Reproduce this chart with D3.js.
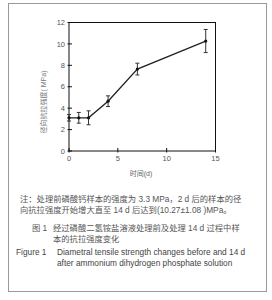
<!DOCTYPE html>
<html>
<head>
<meta charset="utf-8">
<script src="https://cdn.jsdelivr.net/npm/d3@7"></script>
<style>
body{margin:0;background:#fff;}
text{font-family:"Liberation Sans",Arial,"Noto Sans CJK SC",sans-serif;}
</style>
</head>
<body>
<div id="chart"></div>
<script>
// data
var days = [0, 1, 2, 4, 7, 14]
var strength = [3.1, 3.1, 3.1, 4.65, 7.65, 10.27]
var errs = [0.3, 0.5, 0.65, 0.5, 0.55, 1.08]
var xTicks = [0, 5, 10, 15]
var yTicks = [0, 2, 4, 6, 8, 10, 12]

var w = 272, h = 300
var svg = d3.select("#chart").append("svg")
	.attr("width", w)
	.attr("height", h)

// outer frame of the figure
svg.append("rect")
	.attr("x", 8.5).attr("y", 3.5)
	.attr("width", 258).attr("height", 288)
	.attr("fill", "none").attr("stroke", "#999").attr("stroke-width", 1)

var pLeft = 69, pRight = 215.5, pTop = 22.5, pBottom = 151

var x = d3.scaleLinear().domain([0, 15]).range([pLeft, pRight])
var y = d3.scaleLinear().domain([0, 12]).range([pBottom, pTop])

var g = svg.append("g")

// plot box
g.append("rect")
	.attr("x", pLeft).attr("y", pTop)
	.attr("width", pRight - pLeft).attr("height", pBottom - pTop)
	.attr("fill", "none").attr("stroke", "#111").attr("stroke-width", 1)

// ticks (inside)
g.selectAll(".yt").data(yTicks).enter().append("line")
	.attr("x1", pLeft - 1.5).attr("x2", pLeft + 3)
	.attr("y1", function(d){ return y(d) }).attr("y2", function(d){ return y(d) })
	.attr("stroke", "#111")
g.selectAll(".xt").data(xTicks).enter().append("line")
	.attr("x1", function(d){ return x(d) }).attr("x2", function(d){ return x(d) })
	.attr("y1", pBottom + 1.5).attr("y2", pBottom - 3)
	.attr("stroke", "#111")

g.selectAll(".yl").data(yTicks).enter().append("text")
	.attr("x", pLeft - 4).attr("y", function(d){ return y(d) + 2.6 })
	.attr("text-anchor", "end").attr("font-size", 7.5).attr("fill", "#555")
	.text(function(d){ return d })
g.selectAll(".xl").data(xTicks).enter().append("text")
	.attr("x", function(d){ return x(d) }).attr("y", pBottom + 9.5)
	.attr("text-anchor", "middle").attr("font-size", 7.5).attr("fill", "#555")
	.text(function(d){ return d })

// axis titles
svg.append("text")
	.attr("transform", "translate(46,102) rotate(-90)")
	.attr("text-anchor", "middle").attr("font-size", 7).attr("fill", "#777")
	.text("径向抗拉强度( MPa)")
svg.append("text")
	.attr("x", 141).attr("y", 175.5)
	.attr("text-anchor", "middle").attr("font-size", 7).attr("fill", "#666")
	.text("时间(d)")

// line
var pts = days.map(function(d, i){ return [d, strength[i], errs[i]] })
var line = d3.line()
	.x(function(d){ return x(d[0]) })
	.y(function(d){ return y(d[1]) })
g.append("path").datum(pts)
	.attr("d", line).attr("fill", "none").attr("stroke", "#222").attr("stroke-width", 1.3)

// error bars
var eb = g.selectAll(".eb").data(pts).enter().append("g")
eb.append("line")
	.attr("x1", function(d){ return x(d[0]) }).attr("x2", function(d){ return x(d[0]) })
	.attr("y1", function(d){ return y(d[1] - d[2]) }).attr("y2", function(d){ return y(d[1] + d[2]) })
	.attr("stroke", "#333").attr("stroke-width", 1)
eb.append("line")
	.attr("x1", function(d){ return x(d[0]) - 2 }).attr("x2", function(d){ return x(d[0]) + 2 })
	.attr("y1", function(d){ return y(d[1] + d[2]) }).attr("y2", function(d){ return y(d[1] + d[2]) })
	.attr("stroke", "#333")
eb.append("line")
	.attr("x1", function(d){ return x(d[0]) - 2 }).attr("x2", function(d){ return x(d[0]) + 2 })
	.attr("y1", function(d){ return y(d[1] - d[2]) }).attr("y2", function(d){ return y(d[1] - d[2]) })
	.attr("stroke", "#333")
eb.append("circle")
	.attr("cx", function(d){ return x(d[0]) }).attr("cy", function(d){ return y(d[1]) })
	.attr("r", 1.6).attr("fill", "#111")

// note and captions
var noteLines = [
	"注：处理前磷酸钙样本的强度为 3.3 MPa，2 d 后的样本的径",
	"向抗拉强度开始增大直至 14 d 后达到(10.27±1.08 )MPa。"
]
svg.selectAll(".note").data(noteLines).enter().append("text")
	.attr("x", 20).attr("y", function(d, i){ return 201.5 + i * 11 })
	.attr("font-size", 8.3).attr("fill", "#555")
	.text(function(d){ return d })

svg.append("text").attr("x", 32).attr("y", 231)
	.attr("font-size", 8.3).attr("fill", "#555").text("图 1")
var capCn = ["经过磷酸二氢铵盐溶液处理前及处理 14 d 过程中样", "本的抗拉强度变化"]
svg.selectAll(".capcn").data(capCn).enter().append("text")
	.attr("x", 53).attr("y", function(d, i){ return 231 + i * 10.5 })
	.attr("font-size", 8.3).attr("fill", "#555")
	.text(function(d){ return d })

svg.append("text").attr("x", 16).attr("y", 254.5)
	.attr("font-size", 8.3).attr("fill", "#444").text("Figure 1")
var capEn = ["Diametral tensile strength changes before and 14 d", "after ammonium dihydrogen phosphate solution"]
svg.selectAll(".capen").data(capEn).enter().append("text")
	.attr("x", 57).attr("y", function(d, i){ return 254.5 + i * 11.3 })
	.attr("font-size", 8.3).attr("fill", "#444")
	.text(function(d){ return d })
</script>
</body>
</html>
